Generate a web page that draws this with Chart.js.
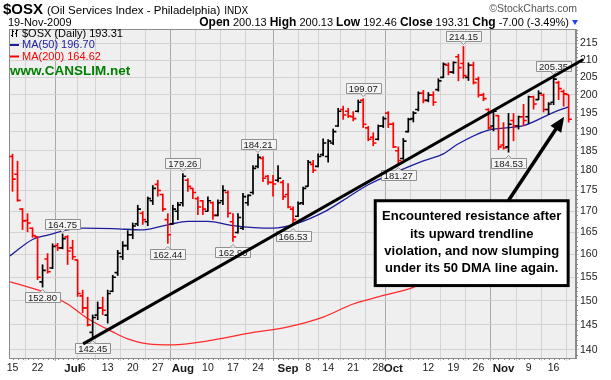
<!DOCTYPE html>
<html><head><meta charset="utf-8">
<title>$OSX Oil Services Index</title>
<script src="https://cdn.jsdelivr.net/npm/chart.js@4.4.1/dist/chart.umd.min.js"></script>
<style>
html,body{margin:0;padding:0;background:#fff;overflow:hidden;}
#wrap{width:611px;height:380px;position:relative;}
canvas{display:block;}
</style></head><body>
<div id="wrap"><canvas id="chart" width="611" height="380"></canvas></div>
<script>
// ---------- data ----------
const dates = [
"Jun 15","Jun 16","Jun 17","Jun 18","Jun 19","Jun 22","Jun 23","Jun 24","Jun 25","Jun 26","Jun 29","Jun 30",
"Jul 1","Jul 2","Jul 6","Jul 7","Jul 8","Jul 9","Jul 10","Jul 13","Jul 14","Jul 15","Jul 16","Jul 17","Jul 20","Jul 21","Jul 22","Jul 23","Jul 24","Jul 27","Jul 28","Jul 29","Jul 30","Jul 31",
"Aug 3","Aug 4","Aug 5","Aug 6","Aug 7","Aug 10","Aug 11","Aug 12","Aug 13","Aug 14","Aug 17","Aug 18","Aug 19","Aug 20","Aug 21","Aug 24","Aug 25","Aug 26","Aug 27","Aug 28","Aug 31",
"Sep 1","Sep 2","Sep 3","Sep 4","Sep 8","Sep 9","Sep 10","Sep 11","Sep 14","Sep 15","Sep 16","Sep 17","Sep 18","Sep 21","Sep 22","Sep 23","Sep 24","Sep 25","Sep 28","Sep 29","Sep 30",
"Oct 1","Oct 2","Oct 5","Oct 6","Oct 7","Oct 8","Oct 9","Oct 12","Oct 13","Oct 14","Oct 15","Oct 16","Oct 19","Oct 20","Oct 21","Oct 22","Oct 23","Oct 26","Oct 27","Oct 28","Oct 29","Oct 30",
"Nov 2","Nov 3","Nov 4","Nov 5","Nov 6","Nov 9","Nov 10","Nov 11","Nov 12","Nov 13","Nov 16","Nov 17","Nov 18","Nov 19"];

const open = [
183.5,179.0,170.5,167.8,166.0,164.0,154.0,159.0,157.0,162.0,
161.5,164.0,161.5,158.8,151.0,148.5,143.5,147.0,148.5,147.0,
152.0,156.0,159.5,162.0,164.5,167.0,169.5,167.5,172.5,176.5,
174.0,168.0,167.0,170.0,172.0,177.5,175.5,173.0,172.5,170.0,
172.0,169.0,172.5,174.5,167.5,165.0,166.0,172.0,174.5,181.0,
183.0,178.5,177.0,177.5,177.0,174.0,170.5,168.8,172.0,176.0,
181.5,181.0,184.0,183.5,187.0,191.5,196.0,195.5,194.0,195.5,
198.5,191.0,188.5,188.0,191.5,195.0,192.0,185.0,183.0,190.0,
193.5,196.0,200.5,198.5,200.0,201.5,205.0,208.5,206.5,211.0,
209.0,205.0,208.5,204.5,200.0,196.0,191.5,194.3,186.5,186.0,
193.0,191.5,194.0,194.0,199.5,198.7,200.0,196.0,198.0,203.5,
201.0,200.13];
const high = [
184.2,182.4,170.7,169.5,166.2,164.1,157.8,160.3,162.5,162.6,
164.75,164.4,163.3,158.9,152.3,150.8,147.1,149.8,150.8,152.3,
155.5,161.0,163.0,165.5,167.3,171.5,170.0,173.5,176.3,177.6,
174.2,169.5,171.5,172.2,179.26,178.0,175.6,173.5,172.7,173.5,
172.3,172.8,176.3,175.0,169.5,169.5,174.4,174.0,181.3,184.21,
183.6,178.8,178.8,181.3,177.6,176.8,171.1,172.3,175.9,182.6,
182.6,184.3,188.2,188.0,190.8,196.4,197.0,196.4,195.5,198.7,
199.07,191.5,189.8,191.9,194.1,195.5,192.5,186.1,188.3,193.7,
195.5,201.0,201.4,200.8,201.0,204.7,209.3,209.3,209.6,211.8,
214.15,209.3,209.5,205.2,200.6,196.3,195.7,194.5,192.5,195.0,
195.0,194.3,197.5,199.8,199.8,201.3,200.4,198.0,205.35,204.0,
201.5,200.13];
const low = [
174.7,172.3,165.6,165.1,163.8,154.4,152.8,155.8,156.8,160.8,
161.2,157.7,158.8,150.8,147.4,144.7,142.45,146.0,147.0,145.3,
151.8,155.3,158.8,161.0,163.5,166.5,166.8,166.5,171.5,173.5,
169.9,162.44,166.8,167.9,171.1,174.7,172.9,169.1,169.1,169.9,
168.0,168.8,171.5,168.5,162.9,164.8,165.6,171.3,174.0,180.5,
177.1,176.4,173.5,177.0,172.7,170.7,166.53,168.6,171.5,175.9,
179.3,180.8,183.6,182.0,186.5,191.3,193.2,193.7,192.8,195.2,
191.0,187.5,186.2,187.7,191.0,191.0,185.7,181.27,182.7,189.8,
192.5,195.5,197.7,198.0,197.0,201.0,204.8,205.6,206.0,203.9,
204.6,204.0,203.0,199.3,198.3,190.6,190.1,185.2,185.3,184.53,
187.5,190.6,191.5,192.2,196.0,198.6,195.2,194.5,197.2,198.6,
196.8,192.46];
const close = [
177.8,172.6,167.7,167.2,164.3,155.0,156.5,156.2,161.8,161.5,
163.6,160.8,159.5,151.5,148.5,145.0,146.5,148.5,148.0,151.5,
155.0,160.3,162.0,164.5,166.5,170.5,168.0,173.0,175.5,175.0,
170.5,164.5,170.5,171.5,178.5,176.0,174.5,171.0,170.5,172.5,
169.0,172.0,175.0,169.5,164.0,168.5,173.5,173.8,180.5,183.3,
178.0,177.0,176.6,178.0,173.5,171.0,168.0,171.8,175.5,182.0,
180.0,183.5,187.0,187.5,190.0,195.5,194.5,194.2,193.5,198.0,
192.0,188.0,187.0,191.5,193.5,192.0,186.0,182.5,187.5,193.3,
195.0,200.5,198.5,200.0,198.0,204.0,208.8,206.5,209.3,207.8,
205.5,208.5,203.5,200.0,199.0,191.0,195.5,186.0,185.7,192.0,
191.5,194.0,193.0,199.5,197.5,200.5,196.0,197.5,204.5,201.8,
200.31,193.31];

// moving averages read at points along the drawn lines (bar index, value)
const ma50X = [-0.5,4,7,11,14,20,26,31,35,39,44,52,57,62,66,71,77,82,86,89,95,102,108,111];
const ma50Y = [159.7,163.4,164.4,165.6,166.0,165.9,165.6,166.8,167.6,167.6,166.6,166.0,167.2,169.7,172.6,176.4,179.8,182.4,184.2,186.8,190.4,191.6,195.2,196.70];
const ma200X = [-0.5,6,11,15,20,23,27,32,39,47,55,62,68,73,80,82,89,97,105,111];
const ma200Y = [154.0,151.9,149.3,146.3,143.6,142.2,141.2,141.0,141.8,143.3,144.6,146.6,149.3,150.8,152.8,153.8,156.6,159.6,162.4,164.62];

// trendline end points (bar index, price)
const trendX = [14.1, 113.9];
const trendY = [141.2, 210.2];

// axis ticks
const tickIdx  = [0,5,12,14,19,24,29,34,39,44,49,55,59,63,68,73,76,83,88,93,98,103,108];
const tickText = ["15","22","Jul","6","13","20","27","Aug","10","17","24","Sep","8","14","21","28","Oct","12","19","26","Nov","9","16"];
const monthTicks = ["Jul","Aug","Sep","Oct","Nov"];
const yTicks = [140,145,150,155,160,165,170,175,180,185,190,195,200,205,210,215];

// labelled extremes (bar indices)
const highLabelIdx = [10,34,49,70,90,108];
const lowLabelIdx  = [6,16,31,44,56,77,99];

// annotation (bar index / price space)
const noteLines = ["Encountered resistance after","its upward trendline","violation, and now slumping","under its 50 DMA line again."];
const noteBoxX = [72.4, 110.9];
const noteBoxY = [172.5, 153.2];
const arrowX = [98.9, 110.1];
const arrowY = [172.4, 194.0];

// ---------- chart ----------
const FONT = '"Liberation Sans", Arial, Helvetica, sans-serif';
Chart.defaults.font.family = FONT;
const RED = '#ff0000', BLUE = '#1c1c9c';
const barColors = close.map((c,i)=> (i===0 ? c < open[i] : c < close[i-1]) ? RED : '#000000');

function valueBox(ctx, x, yBar, txt, above){
  ctx.font = '9.5px ' + FONT;
  const w = Math.round(ctx.measureText(txt).width) + 6, h = 10;
  const bx = Math.round(x - w/2) + 0.5;
  const by = above ? Math.round(yBar - 5 - h) + 0.5 : Math.round(yBar + 5) + 0.5;
  ctx.lineWidth = 1; ctx.fillStyle = '#f4f4f4'; ctx.strokeStyle = '#909090';
  ctx.beginPath(); ctx.rect(bx, by, w, h); ctx.fill(); ctx.stroke();
  ctx.beginPath();
  if (above){ ctx.moveTo(x-3, by+h); ctx.lineTo(x, by+h+3); ctx.lineTo(x+3, by+h); }
  else { ctx.moveTo(x-3, by); ctx.lineTo(x, by-3); ctx.lineTo(x+3, by); }
  ctx.fill(); ctx.stroke();
  ctx.fillStyle = '#1a1a1a'; ctx.textAlign = 'center'; ctx.textBaseline = 'middle';
  ctx.fillText(txt, x, by + h/2 + 0.5);
}

const stockPlugin = {
  id: 'stock',
  beforeDraw(chart){
    const {ctx, chartArea:a} = chart;
    ctx.save();
    ctx.fillStyle = '#ffffff'; ctx.fillRect(0,0,chart.width,chart.height);
    ctx.fillStyle = '#efefef'; ctx.fillRect(a.left, a.top, a.right-a.left, a.bottom-a.top);
    ctx.restore();
  },
  beforeDatasetsDraw(chart){
    const {ctx, chartArea:a, scales} = chart;
    ctx.save();
    ctx.strokeStyle = '#8c8c8c'; ctx.lineWidth = 1;
    ctx.strokeRect(a.left+0.5, a.top+0.5, a.right-a.left-1, a.bottom-a.top);
    // minor ticks
    ctx.beginPath();
    for (let v = 139; v <= 219; v++){
      if (v % 5 === 0) continue;
      const y = Math.round(scales.y.getPixelForValue(v)) + 0.5;
      ctx.moveTo(a.right, y); ctx.lineTo(a.right+2, y);
    }
    for (let i = 0; i < dates.length; i++){
      const x = Math.round(scales.x.getPixelForValue(i)) + 0.5;
      ctx.moveTo(x, a.bottom); ctx.lineTo(x, a.bottom+2);
    }
    ctx.stroke();
    ctx.restore();
  },
  beforeDatasetDraw(chart, args){
    if (args.index !== 3) return;
    const {ctx, scales} = chart;
    ctx.save();
    highLabelIdx.forEach(i => valueBox(ctx, scales.x.getPixelForValue(i), scales.y.getPixelForValue(high[i]), high[i].toFixed(2), true));
    lowLabelIdx.forEach(i => valueBox(ctx, scales.x.getPixelForValue(i), scales.y.getPixelForValue(low[i]), low[i].toFixed(2), false));
    ctx.restore();
  },
  afterDatasetDraw(chart, args){
    if (args.index !== 2) return;
    const {ctx, scales} = chart;
    ctx.save(); ctx.lineWidth = 1.6;
    for (let i = 0; i < dates.length; i++){
      const x = scales.x.getPixelForValue(i);
      const yo = scales.y.getPixelForValue(open[i]), yc = scales.y.getPixelForValue(close[i]);
      ctx.strokeStyle = barColors[i];
      ctx.beginPath();
      ctx.moveTo(x-3.2, yo); ctx.lineTo(x, yo);
      ctx.moveTo(x, yc); ctx.lineTo(x+3.2, yc);
      ctx.stroke();
    }
    ctx.restore();
  },
  afterDraw(chart){
    const {ctx, scales} = chart;
    const n = close.length - 1;
    ctx.save();
    // ---- header ----
    ctx.textBaseline = 'alphabetic'; ctx.textAlign = 'left'; ctx.fillStyle = '#000';
    ctx.font = 'bold 15px ' + FONT; ctx.fillText('$OSX', 3, 14);
    let x = 3 + ctx.measureText('$OSX').width + 4;
    ctx.font = '11.5px ' + FONT; ctx.fillText('(Oil Services Index - Philadelphia)', x, 14);
    x += ctx.measureText('(Oil Services Index - Philadelphia)').width + 4;
    ctx.font = '10px ' + FONT; ctx.fillText('INDX', x, 14);
    ctx.textAlign = 'right'; ctx.fillStyle = '#555'; ctx.font = '10.5px ' + FONT;
    ctx.fillText('\u00A9StockCharts.com', 577, 12);
    ctx.textAlign = 'left'; ctx.fillStyle = '#000'; ctx.font = '11px ' + FONT;
    ctx.fillText('19-Nov-2009', 8, 26);
    const chg = close[n] - close[n-1], pct = chg / close[n-1] * 100;
    const parts = [
      ['Open', true], [' ' + open[n].toFixed(2) + ' ', false],
      ['High', true], [' ' + high[n].toFixed(2) + ' ', false],
      ['Low', true], [' ' + low[n].toFixed(2) + ' ', false],
      ['Close', true], [' ' + close[n].toFixed(2) + ' ', false],
      ['Chg', true], [' ' + chg.toFixed(2) + ' (' + pct.toFixed(2) + '%)', false]];
    const fontOf = b => (b ? 'bold 12px ' : '11px ') + FONT;
    let tw = 0; parts.forEach(p => { ctx.font = fontOf(p[1]); tw += ctx.measureText(p[0]).width; });
    x = 569 - tw;
    parts.forEach(p => { ctx.font = fontOf(p[1]); ctx.fillText(p[0], x, 26); x += ctx.measureText(p[0]).width; });
    ctx.fillStyle = '#2040ff';
    ctx.beginPath(); ctx.moveTo(572, 20); ctx.lineTo(578, 20); ctx.lineTo(575, 25); ctx.closePath(); ctx.fill();

    // ---- legend ----
    ctx.strokeStyle = '#000'; ctx.lineWidth = 1;
    ctx.beginPath();
    ctx.moveTo(12.5, 29.5); ctx.lineTo(12.5, 37); ctx.moveTo(11, 35.5); ctx.lineTo(12.5, 35.5); ctx.moveTo(12.5, 31.5); ctx.lineTo(14, 31.5);
    ctx.moveTo(16.5, 29.5); ctx.lineTo(16.5, 37); ctx.moveTo(15, 33.5); ctx.lineTo(16.5, 33.5); ctx.moveTo(16.5, 30.5); ctx.lineTo(18, 30.5);
    ctx.stroke();
    ctx.textBaseline = 'middle'; ctx.fillStyle = '#000'; ctx.font = '11px ' + FONT;
    ctx.fillText('$OSX (Daily) ' + close[n].toFixed(2), 22, 33.5);
    ctx.lineWidth = 2;
    ctx.strokeStyle = BLUE; ctx.beginPath(); ctx.moveTo(10, 45); ctx.lineTo(19, 45); ctx.stroke();
    ctx.fillStyle = BLUE; ctx.fillText('MA(50) ' + ma50Y[ma50Y.length-1].toFixed(2), 22, 45);
    ctx.strokeStyle = RED; ctx.beginPath(); ctx.moveTo(10, 56.5); ctx.lineTo(19, 56.5); ctx.stroke();
    ctx.fillStyle = RED; ctx.fillText('MA(200) ' + ma200Y[ma200Y.length-1].toFixed(2), 22, 56.5);
    ctx.fillStyle = '#008000'; ctx.font = 'bold 13.5px ' + FONT;
    ctx.fillText('www.CANSLIM.net', 10, 71);

    // ---- annotation box ----
    const bx0 = scales.x.getPixelForValue(noteBoxX[0]), bx1 = scales.x.getPixelForValue(noteBoxX[1]);
    const by0 = scales.y.getPixelForValue(noteBoxY[0]), by1 = scales.y.getPixelForValue(noteBoxY[1]);
    ctx.fillStyle = '#fff'; ctx.fillRect(bx0, by0, bx1-bx0, by1-by0);
    ctx.strokeStyle = '#000'; ctx.lineWidth = 3; ctx.strokeRect(bx0, by0, bx1-bx0, by1-by0);
    ctx.fillStyle = '#000'; ctx.font = 'bold 13px ' + FONT; ctx.textAlign = 'center'; ctx.textBaseline = 'middle';
    const cx = (bx0 + bx1)/2, step = (by1 - by0) / 5;
    noteLines.forEach((t,k) => ctx.fillText(t, cx, by0 + step*(k+1) - 1 + k*0.3));
    // ---- arrow ----
    const ax0 = scales.x.getPixelForValue(arrowX[0]), ay0 = scales.y.getPixelForValue(arrowY[0]);
    const ax1 = scales.x.getPixelForValue(arrowX[1]), ay1 = scales.y.getPixelForValue(arrowY[1]);
    const dx = ax1-ax0, dy = ay1-ay0, len = Math.hypot(dx,dy), ux = dx/len, uy = dy/len;
    const hl = 15, hw = 6.5;
    const bxh = ax1 - ux*hl, byh = ay1 - uy*hl;
    ctx.lineWidth = 3.5; ctx.lineCap = 'butt';
    ctx.beginPath(); ctx.moveTo(ax0, ay0); ctx.lineTo(bxh + ux*2, byh + uy*2); ctx.stroke();
    ctx.beginPath(); ctx.moveTo(ax1, ay1);
    ctx.lineTo(bxh - uy*hw, byh + ux*hw); ctx.lineTo(bxh + uy*hw, byh - ux*hw); ctx.closePath(); ctx.fill();
    ctx.restore();
  }
};

new Chart(document.getElementById('chart'), {
  type: 'bar',
  data: {
    datasets: [
      { type:'line', label:'MA(200)', data: ma200X.map((v,k)=>({x:v, y:ma200Y[k]})), borderColor:'#ff2a2a', borderWidth:1.3,
        pointRadius:0, cubicInterpolationMode:'monotone', order:5 },
      { type:'line', label:'MA(50)', data: ma50X.map((v,k)=>({x:v, y:ma50Y[k]})), borderColor:BLUE, borderWidth:1.3,
        pointRadius:0, cubicInterpolationMode:'monotone', order:4 },
      { type:'bar', label:'$OSX', data: dates.map((d,i)=>({x:i, y:[low[i], high[i]]})), backgroundColor: barColors,
        barThickness:1.7, inflateAmount:0, borderWidth:0, order:3 },
      { type:'line', label:'trend', data: trendX.map((v,k)=>({x:v, y:trendY[k]})), borderColor:'#000', borderWidth:3,
        pointRadius:0, clip:false, order:1 }
    ]
  },
  options: {
    responsive:false, animation:false, devicePixelRatio:1,
    layout:{ padding:{ left:9, top:29, right:0, bottom:0 } },
    plugins:{ legend:{display:false}, tooltip:{enabled:false} },
    scales:{
      x:{ type:'linear', min:-0.7, max:112.47, offset:false, position:'bottom',
          afterBuildTicks: s => { s.ticks = tickIdx.map(v => ({value:v})); },
          afterFit: s => { s.height = 22; },
          ticks:{ autoSkip:false, maxRotation:0, minRotation:0, padding:1, color:'#1a1a1a',
                  callback: v => tickText[tickIdx.indexOf(v)],
                  font: c => monthTicks.includes(tickText[tickIdx.indexOf(c.tick ? c.tick.value : -1)])
                        ? {family:FONT, size:11.5, weight:'bold'} : {family:FONT, size:10.5} },
          grid:{ color: c => (c.tick && monthTicks.includes(tickText[tickIdx.indexOf(c.tick.value)])) ? '#a9a9a9' : '#d3d3d3',
                 lineWidth:1, tickLength:3 },
          border:{ display:true, color:'#8c8c8c' } },
      y:{ type:'logarithmic', position:'right', min:138.44, max:219.34,
          afterBuildTicks: s => { s.ticks = yTicks.map(v => ({value:v})); },
          afterFit: s => { s.width = 35; },
          ticks:{ callback: v => String(v), font:{family:FONT, size:10.5}, color:'#222', padding:1 },
          grid:{ color:'#d3d3d3', tickLength:3 },
          border:{ display:true, color:'#8c8c8c' } }
    }
  },
  plugins:[stockPlugin]
});
</script>
</body></html>
